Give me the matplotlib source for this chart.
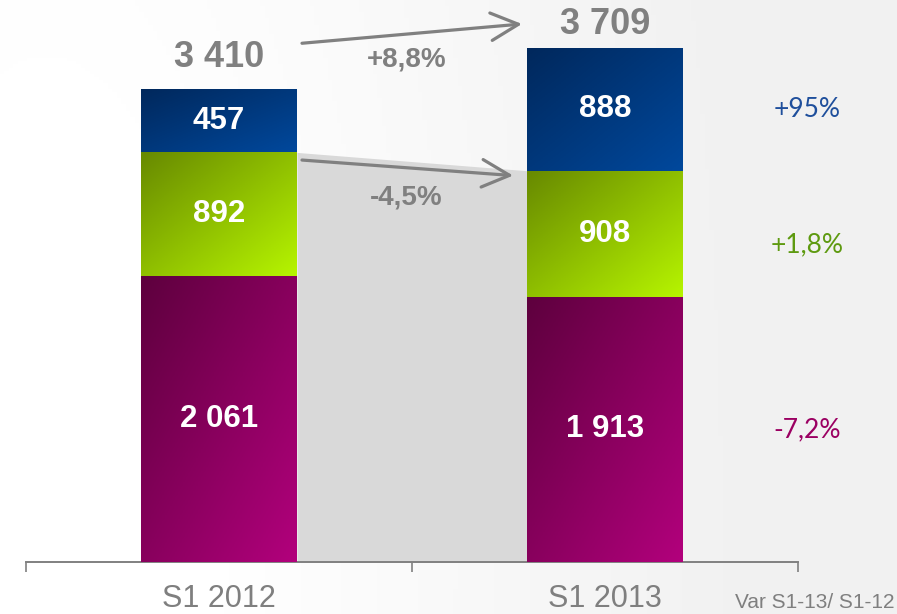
import numpy as np
import matplotlib.pyplot as plt
from matplotlib.colors import LinearSegmentedColormap

plt.rcParams['font.family'] = ['Liberation Sans', 'DejaVu Sans']

# data
periods = ['S1 2012', 'S1 2013']
bottom_vals = [2061, 1913]   # magenta
middle_vals = [892, 908]     # green
top_vals = [457, 888]        # blue
pct_labels = ['-7,2%', '+1,8%', '+95%']
total_change = '+8,8%'
sub_change = '-4,5%'
var_label = 'Var S1-13/ S1-12'

series = [bottom_vals, middle_vals, top_vals]
grad_colors = [('#5e003e', '#b2007c'),
               ('#688a00', '#b6f400'),
               ('#00285c', '#00489c')]
pct_colors = ['#9b0062', '#5e9a10', '#1f4f9c']
grey = '#808080'

fig = plt.figure(figsize=(8.97, 6.14), dpi=100)

# background gradient, white on the left fading to light grey on the right
bg = fig.add_axes([0, 0, 1, 1], zorder=-5)
gx, gy = np.meshgrid(np.linspace(0, 1, 200), np.linspace(0, 1, 200))
g = np.clip(np.sqrt(((gx - 0.05) * 1.0) ** 2 + ((gy - 0.9) * 0.25) ** 2) - 0.2, 0, 1)
bg_cmap = LinearSegmentedColormap.from_list('bg', ['#ffffff', '#f1f1f1'])
bg.imshow(g, cmap=bg_cmap, aspect='auto', extent=[0, 1, 0, 1], origin='upper', vmin=0, vmax=0.6)
bg.axis('off')

ax = fig.add_axes([26 / 897, 52 / 614, 772 / 897, 562 / 614])
ax.patch.set_alpha(0)

x = np.arange(len(periods))
w = 0.404
bottoms = np.zeros(len(periods))
bars = []
for vals, (c0, c1) in zip(series, grad_colors):
    b = ax.bar(x, vals, w, bottom=bottoms, color=c1, linewidth=0, zorder=3)
    cmap = LinearSegmentedColormap.from_list('g', [c0, c1])
    for rect in b:
        rx, ry, rw, rh = rect.get_x(), rect.get_y(), rect.get_width(), rect.get_height()
        u, v = np.meshgrid(np.linspace(0, 1, 60), np.linspace(0, 1, 60))
        im = ax.imshow((u + v) / 2, cmap=cmap, extent=[rx, rx + rw, ry, ry + rh],
                       origin='upper', aspect='auto', zorder=4, vmin=0, vmax=1)
        im.set_clip_path(rect)
    bars.append(b)
    bottoms = bottoms + np.array(vals)

totals = bottoms
sub_tot = np.array(bottom_vals) + np.array(middle_vals)

# grey connector between bars
ax.fill_between([x[0] + w / 2, x[1] - w / 2], [sub_tot[0], sub_tot[1]], color='#d9d9d9', zorder=2, linewidth=0)

# segment labels
for vals, b in zip(series, bars):
    for v, rect in zip(vals, b):
        txt = f'{v:,}'.replace(',', ' ')
        ax.text(rect.get_x() + rect.get_width() / 2, rect.get_y() + rect.get_height() / 2, txt,
                ha='center', va='center', color='white', fontsize=22.5, fontweight='bold', zorder=6)

# totals
tot_off = [100, 40]
for xi, t, off in zip(x, totals, tot_off):
    ax.text(xi, t + off, f'{int(t):,}'.replace(',', ' '), ha='center', va='bottom',
            color=grey, fontsize=26, fontweight='bold', zorder=6)

arrow = dict(arrowstyle='->,head_length=0.9,head_width=0.45', color=grey, lw=2.3, mutation_scale=22,
             shrinkA=0, shrinkB=0)
ax.annotate('', xy=(x[1] - w / 2 - 0.013, totals[1] + 170), xytext=(x[0] + w / 2 + 0.013, totals[0] + 330),
            arrowprops=arrow, zorder=7)
ax.annotate('', xy=(x[1] - w / 2 - 0.036, sub_tot[1] - 35), xytext=(x[0] + w / 2 + 0.013, sub_tot[0] - 55),
            arrowprops=arrow, zorder=7)

ax.text(0.485, 3625, total_change, ha='center', va='center', color=grey, fontsize=20, fontweight='bold', zorder=6)
ax.text(0.485, 2630, sub_change, ha='center', va='center', color=grey, fontsize=20, fontweight='bold', zorder=6)

# variation column on the right
seg_centers = np.concatenate([[0], np.cumsum([s[1] for s in series])])
seg_centers = (seg_centers[:-1] + seg_centers[1:]) / 2
pct_y = [seg_centers[0], seg_centers[1] - 80, seg_centers[2]]
for lbl, yy, c in zip(pct_labels, pct_y, pct_colors):
    ax.text(1.523, yy, lbl, ha='center', va='center', color=c, fontsize=19, family=['Lato', 'DejaVu Sans'])

ax.set_xlim(-0.5, 1.5)
ax.set_ylim(0, 562 / 0.1387)
for s in ['top', 'left', 'right']:
    ax.spines[s].set_visible(False)
ax.spines['bottom'].set_color(grey)
ax.spines['bottom'].set_linewidth(1.4)
ax.set_yticks([])
ax.set_xticks(x)
ax.set_xticklabels(periods, fontsize=22, color='#7f7f7f')
ax.tick_params(axis='x', which='major', length=0, pad=16)
ax.set_xticks([-0.5, 0.5, 1.5], minor=True)
ax.tick_params(axis='x', which='minor', length=7.5, width=1.2, color=grey, direction='out')

fig.text(894 / 897, 1 - 602 / 614, var_label, ha='right', va='center', fontsize=15, color='#7f7f7f')

fig.savefig('out.png', dpi=100)
